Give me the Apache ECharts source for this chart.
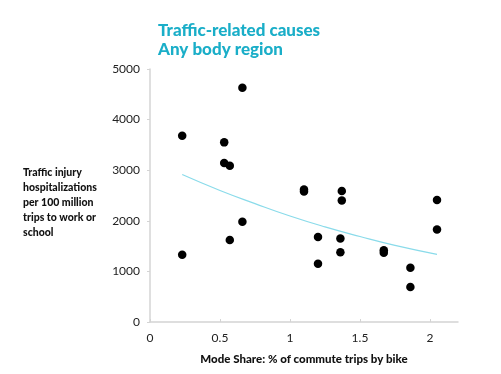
<!DOCTYPE html>
<html>
<head>
<meta charset="utf-8">
<script src="https://cdn.jsdelivr.net/npm/echarts@6/dist/echarts.min.js"></script>
<style>html,body{margin:0;padding:0;background:#fff;}#c{width:501px;height:374px;}</style>
</head>
<body>
<div id="c"></div>
<script>
var titleLines = ['Traffic-related causes', 'Any body region'];
var xAxisName = 'Mode Share: % of commute trips by bike';
var yAxisLines = ['Traffic injury', 'hospitalizations', 'per 100 million', 'trips to work or', 'school'];
// scatter points: [mode share %, hospitalizations]
var shareX = [0.23, 0.23, 0.53, 0.53, 0.57, 0.57, 0.66, 0.66, 1.10, 1.10, 1.20, 1.20, 1.37, 1.37, 1.36, 1.36, 1.67, 1.67, 1.86, 1.86, 2.05, 2.05];
var hospY  = [3680, 1330, 3550, 3140, 3090, 1620, 4630, 1980, 2620, 2580, 1680, 1150, 2590, 2400, 1650, 1380, 1420, 1370, 1070, 690, 2410, 1830];
// trend line
var trendX = [0.23, 0.5, 0.75, 1.0, 1.25, 1.5, 1.75, 2.05];
var trendY = [2915, 2600, 2340, 2095, 1880, 1690, 1515, 1338];

var pts = shareX.map(function(x, i){ return [x, hospY[i]]; });
var tr = trendX.map(function(x, i){ return [x, trendY[i]]; });

var font = 'Lato, "Open Sans", sans-serif';
var chart = echarts.init(document.getElementById('c'));
chart.setOption({
  animation: false,
  title: {
    text: titleLines.join('\n'),
    left: 153, top: 16,
    textStyle: { color: '#1AAEC8', fontSize: 17, fontWeight: 900, fontFamily: font, lineHeight: 19 }
  },
  grid: { left: 150, right: 43, top: 69, bottom: 52 },
  xAxis: {
    type: 'value', min: 0, max: 2.2, interval: 0.5,
    name: xAxisName, nameLocation: 'middle', nameGap: 31,
    nameTextStyle: { color: '#111', fontSize: 11.5, fontWeight: 900, fontFamily: font },
    axisLine: { show: true, lineStyle: { color: '#d4d4d4', width: 1.5 } },
    axisTick: { show: true, inside: true, length: 3, lineStyle: { color: '#d4d4d4' } },
    splitLine: { show: false },
    axisLabel: { color: '#222', fontSize: 12, fontFamily: font, margin: 10, showMaxLabel: false,
      formatter: function(v){ return String(v); } }
  },
  yAxis: {
    type: 'value', min: 0, max: 5000, interval: 1000,
    name: '\n' + yAxisLines.join('\n'), nameLocation: 'middle', nameRotate: 0, nameGap: 127,
    nameTextStyle: { color: '#111', fontSize: 10.5, fontWeight: 900, fontFamily: font, align: 'left', lineHeight: 15 },
    axisLine: { show: true, lineStyle: { color: '#d4d4d4', width: 1.5 } },
    axisTick: { show: true, length: 3, lineStyle: { color: '#d4d4d4' } },
    splitLine: { show: false },
    axisLabel: { color: '#222', fontSize: 12, fontFamily: font, margin: 10,
      formatter: function(v){ return String(v); } }
  },
  series: [
    { type: 'line', data: tr, smooth: true, symbol: 'none', lineStyle: { color: '#8ADBEA', width: 1.2 }, z: 1 },
    { type: 'scatter', data: pts, symbolSize: 8.5, itemStyle: { color: '#000', opacity: 1 }, z: 2 }
  ]
});
</script>
</body>
</html>
